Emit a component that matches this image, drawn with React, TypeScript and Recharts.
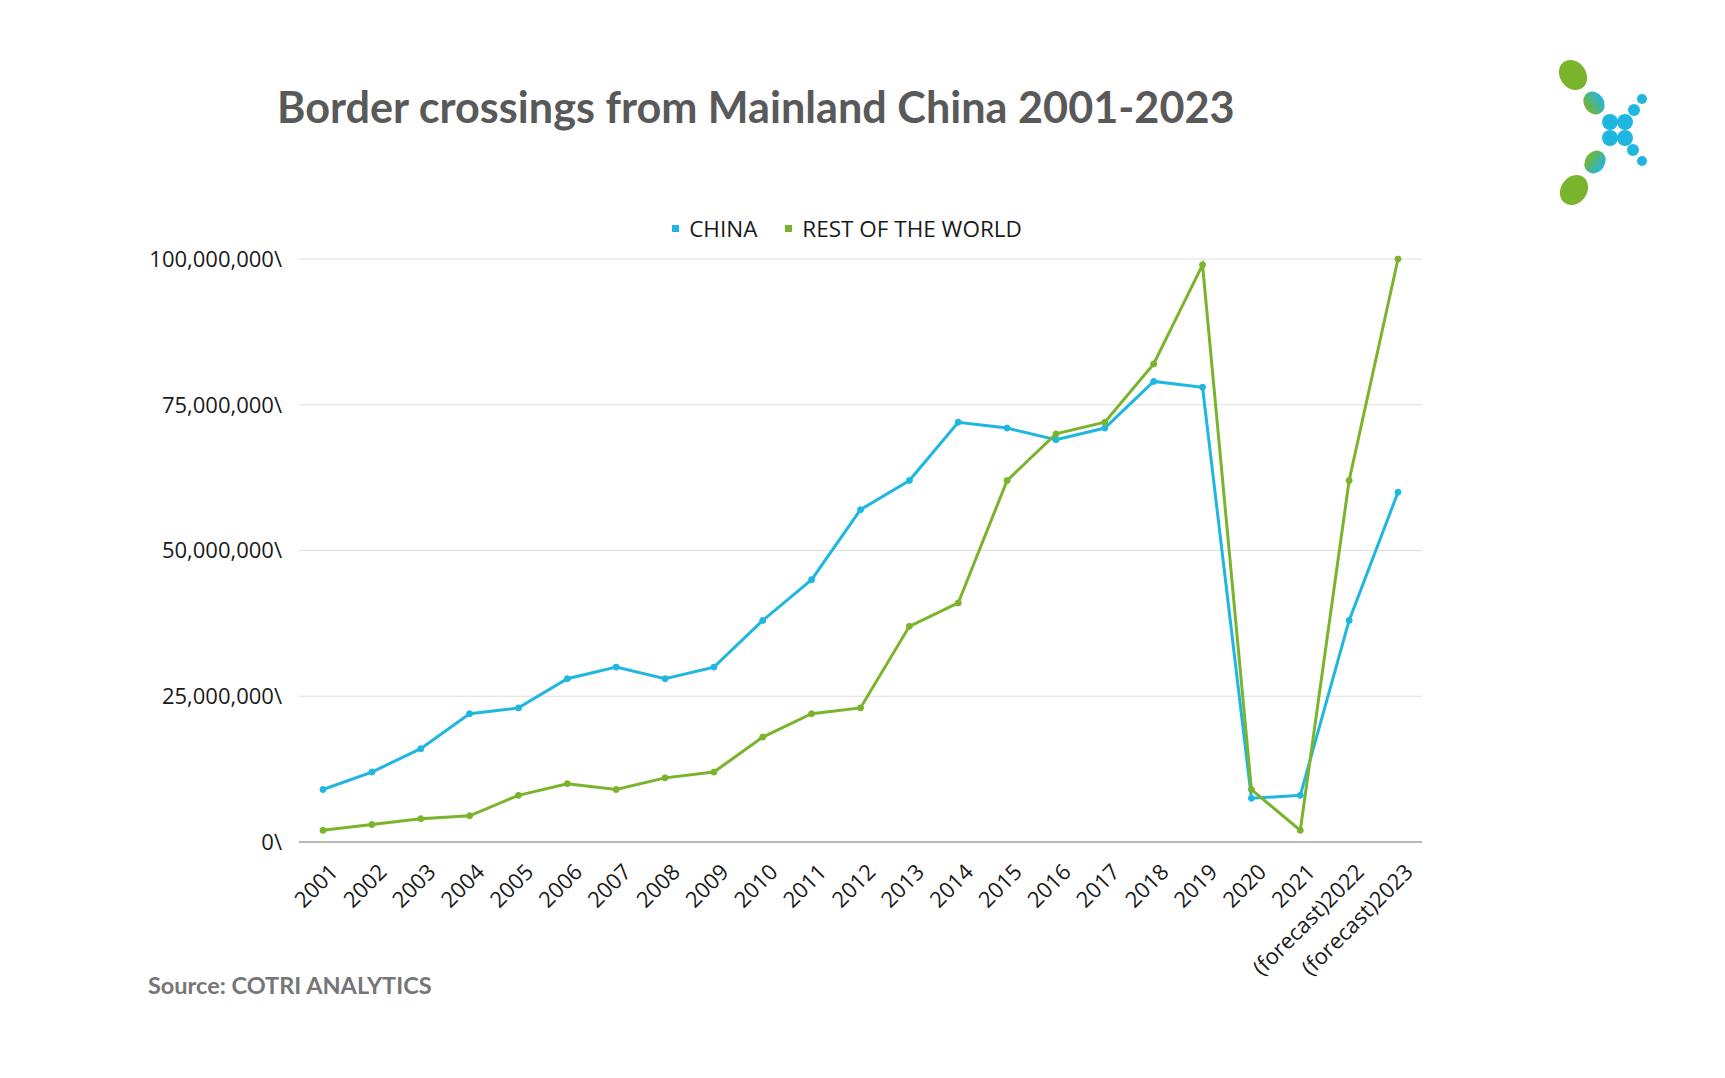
import React from "react";
import { LineChart, Line, XAxis, YAxis, CartesianGrid, Legend } from "recharts";

const years = [
  "2001", "2002", "2003", "2004", "2005", "2006", "2007", "2008", "2009", "2010",
  "2011", "2012", "2013", "2014", "2015", "2016", "2017", "2018", "2019", "2020",
  "2021", "(forecast)2022", "(forecast)2023",
];

const chinaValues = [
  9000000, 12000000, 16000000, 22000000, 23000000, 28000000, 30000000, 28000000,
  30000000, 38000000, 45000000, 57000000, 62000000, 72000000, 71000000, 69000000,
  71000000, 79000000, 78000000, 7500000, 8000000, 38000000, 60000000,
];

const restOfWorldValues = [
  2000000, 3000000, 4000000, 4500000, 8000000, 10000000, 9000000, 11000000,
  12000000, 18000000, 22000000, 23000000, 37000000, 41000000, 62000000, 70000000,
  72000000, 82000000, 99000000, 9000000, 2000000, 62000000, 100000000,
];

const yTicks = [0, 25000000, 50000000, 75000000, 100000000];

const chartData = years.map((year, i) => ({
  year,
  china: chinaValues[i],
  rest: restOfWorldValues[i],
}));

const BLUE = "#1fb7e0";
const GREEN = "#7ab42c";
const TICK_FONT = "'Open Sans', sans-serif";

function YearTick({ x, y, payload }: any) {
  const tx = x + 10;
  const ty = y + 23;
  return (
    <text
      x={tx}
      y={ty}
      transform={`rotate(-45 ${tx} ${ty})`}
      textAnchor="end"
      dominantBaseline="central"
      fontSize={22}
      fontFamily={TICK_FONT}
      fill="#1a1a1a"
    >
      {payload.value}
    </text>
  );
}

function LegendContent({ payload }: any) {
  return (
    <div style={{ display: "flex", justifyContent: "center", gap: 28, fontFamily: TICK_FONT, fontSize: 22.5, color: "#1a1a1a" }}>
      {payload.map((entry: any) => (
        <div key={entry.value} style={{ display: "flex", alignItems: "center" }}>
          <span style={{ width: 7, height: 7, background: entry.color, marginRight: 10, display: "inline-block" }} />
          <span>{entry.value}</span>
        </div>
      ))}
    </div>
  );
}

function Logo() {
  return (
    <svg width={1725} height={260} style={{ position: "absolute", left: 0, top: 0 }}>
      <defs>
        <linearGradient id="leafGrad" x1="0" x2="1" y1="0" y2="0">
          <stop offset="0%" stopColor={GREEN} />
          <stop offset="100%" stopColor={BLUE} />
        </linearGradient>
      </defs>
      <ellipse cx={1573} cy={75} rx={13} ry={16} fill={GREEN} transform="rotate(-35 1573 75)" />
      <ellipse cx={1594} cy={103} rx={10} ry={12} fill="url(#leafGrad)" transform="rotate(-35 1594 103)" />
      <circle cx={1610} cy={122} r={8} fill={BLUE} />
      <circle cx={1625} cy={122} r={8} fill={BLUE} />
      <circle cx={1610} cy={138} r={8} fill={BLUE} />
      <circle cx={1625} cy={138} r={8} fill={BLUE} />
      <circle cx={1634} cy={110} r={6} fill={BLUE} />
      <circle cx={1642} cy={99} r={5} fill={BLUE} />
      <circle cx={1633} cy={150} r={6} fill={BLUE} />
      <circle cx={1642} cy={161} r={5} fill={BLUE} />
      <ellipse cx={1595} cy={162} rx={10} ry={12} fill="url(#leafGrad)" transform="rotate(35 1595 162)" />
      <ellipse cx={1574} cy={190} rx={13} ry={16} fill={GREEN} transform="rotate(35 1574 190)" />
    </svg>
  );
}

export default function App() {
  return (
    <div style={{ position: "absolute", left: 0, top: 0, width: 1725, height: 1078, background: "#fff" }}>
      <div
        style={{
          position: "absolute",
          left: 277,
          top: 80,
          fontFamily: "Lato, sans-serif",
          fontWeight: 700,
          fontSize: 43.2,
          color: "#595959",
          whiteSpace: "nowrap",
        }}
      >
        Border crossings from Mainland China 2001-2023
      </div>
      <Logo />
      <LineChart
        width={1725}
        height={1078}
        data={chartData}
        margin={{ top: 259, right: 303, bottom: 0, left: 0 }}
        style={{ position: "absolute", left: 0, top: 0 }}
      >
        <CartesianGrid vertical={false} stroke="#dedede" strokeWidth={1} />
        <XAxis
          dataKey="year"
          interval={0}
          height={236}
          padding={{ left: 24, right: 24 }}
          tickLine={false}
          tickSize={0}
          axisLine={{ stroke: "#a6a6a6", strokeWidth: 1.5 }}
          tick={<YearTick />}
        />
        <YAxis
          width={299}
          domain={[0, 100000000]}
          ticks={yTicks}
          interval={0}
          axisLine={false}
          tickLine={false}
          tickSize={0}
          tickMargin={17}
          tick={{ fontSize: 22, fontFamily: TICK_FONT, fill: "#1a1a1a" }}
          tickFormatter={(v: number) => v.toLocaleString("en-US") + "\\"}
        />
        <Legend
          verticalAlign="middle"
          align="center"
          content={<LegendContent />}
          wrapperStyle={{ top: 213, left: 0, width: 1694 }}
        />
        <Line
          type="linear"
          dataKey="china"
          name="CHINA"
          stroke={BLUE}
          strokeWidth={3}
          dot={{ r: 3, fill: BLUE, stroke: BLUE, strokeWidth: 1 }}
          isAnimationActive={false}
        />
        <Line
          type="linear"
          dataKey="rest"
          name="REST OF THE WORLD"
          stroke={GREEN}
          strokeWidth={3}
          dot={{ r: 3, fill: GREEN, stroke: GREEN, strokeWidth: 1 }}
          isAnimationActive={false}
        />
      </LineChart>
      <div
        style={{
          position: "absolute",
          left: 148,
          top: 971,
          fontFamily: "Lato, sans-serif",
          fontWeight: 700,
          fontSize: 23.5,
          color: "#767676",
          whiteSpace: "nowrap",
        }}
      >
        Source: COTRI ANALYTICS
      </div>
    </div>
  );
}
